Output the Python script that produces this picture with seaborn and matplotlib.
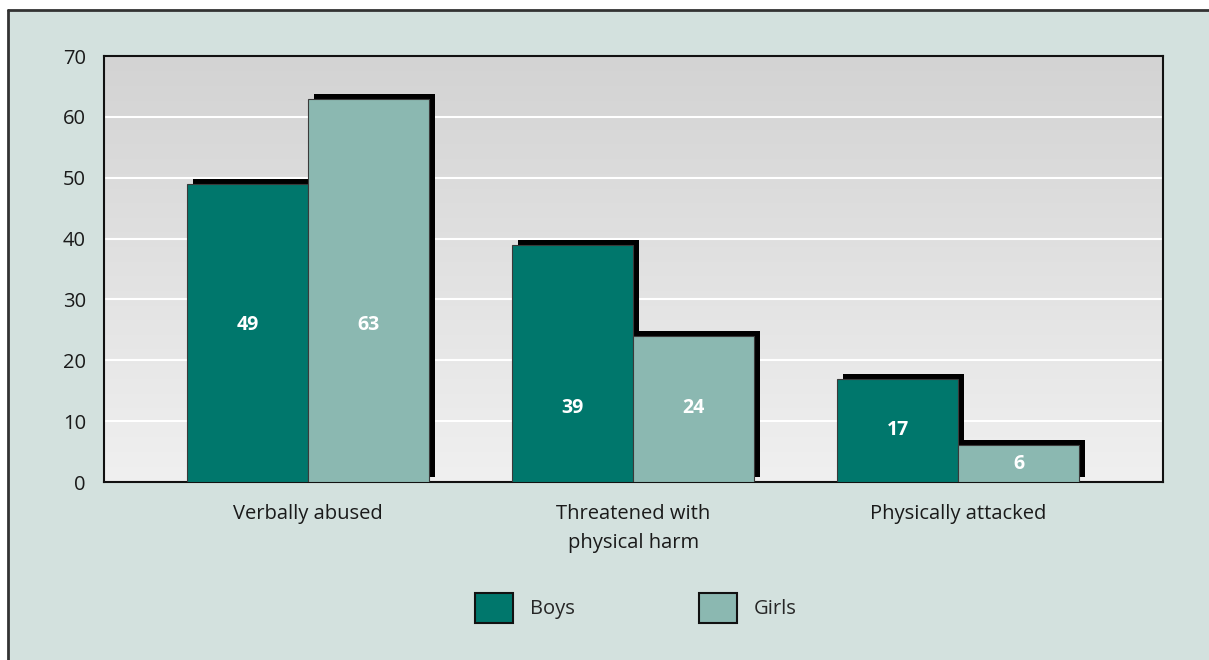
import numpy as np
import pandas as pd
import matplotlib
matplotlib.use("Agg")
import matplotlib.pyplot as plt
import matplotlib.patheffects as pe
from matplotlib.colors import LinearSegmentedColormap
from matplotlib.patches import Rectangle, Patch
from matplotlib.lines import Line2D
import seaborn as sns

categories = ["Verbally abused", "Threatened with\nphysical harm", "Physically attacked"]
boys = [49, 39, 17]
girls = [63, 24, 6]
series = ["Boys", "Girls"]
yticks = [0, 10, 20, 30, 40, 50, 60, 70]
# vertical placement (data units) of the value labels
label_y_boys = [25.8, 12.2, 8.5]
label_y_girls = [25.8, 12.2, 3.0]

boys_color = "#00776c"
girls_color = "#8bb8b1"
bg_color = "#d3e1de"

df = pd.DataFrame({
    "category": categories * 2,
    "value": boys + girls,
    "series": ["Boys"] * len(categories) + ["Girls"] * len(categories),
})

sns.set_style("white")
plt.rcParams["font.family"] = ["Open Sans", "DejaVu Sans"]

W, H = 1209, 660
fig = plt.figure(figsize=(W / 100, H / 100), dpi=100, facecolor="white")

# light panel with border on top and left
fig.patches.append(Rectangle((8 / W, 0), 1 - 8 / W, 1 - 10 / H, transform=fig.transFigure,
                             facecolor=bg_color, edgecolor="none", zorder=-10))
fig.lines.append(Line2D([8 / W, 8 / W], [0, 1 - 10 / H], transform=fig.transFigure,
                        color="#333333", lw=2))
fig.lines.append(Line2D([8 / W, 1], [1 - 10 / H, 1 - 10 / H], transform=fig.transFigure,
                        color="#333333", lw=2))

ax = fig.add_axes([104 / W, 1 - 482 / H, (1163 - 104) / W, (482 - 56) / H])
ax.set_facecolor("none")

# gradient background
grad = np.linspace(1, 0, 256).reshape(-1, 1)
cmap = LinearSegmentedColormap.from_list("g", ["#f0f0f0", "#d3d3d3"])
ax.imshow(grad, extent=[0, 1, 0, 1], transform=ax.transAxes, aspect="auto",
          cmap=cmap, zorder=0, vmin=0, vmax=1)

sns.barplot(data=df, x="category", y="value", hue="series", order=categories,
            hue_order=series, palette=[boys_color, girls_color], width=0.745,
            gap=0, edgecolor="#3a3a3a", linewidth=0.8, ax=ax, legend=False,
            saturation=1, zorder=3)

shadow = [pe.SimplePatchShadow(offset=(4.3, 3.6), shadow_rgbFace="black", alpha=1.0), pe.Normal()]
for p in ax.patches:
    p.set_path_effects(shadow)

for c, vals, ys in zip(ax.containers, [boys, girls], [label_y_boys, label_y_girls]):
    for bar, v, y in zip(c, vals, ys):
        ax.text(bar.get_x() + bar.get_width() / 2, y, f"{v}", ha="center", va="center",
                color="white", fontweight="bold", fontsize=14, zorder=5)

ax.set_xlim(-0.628, 2.63)
ax.set_ylim(0, 70)
ax.set_yticks(yticks)
ax.yaxis.grid(True, color="white", lw=1.5, zorder=1)
ax.set_axisbelow(True)
ax.tick_params(axis="both", length=0, labelsize=14.5, colors="#1a1a1a")
ax.tick_params(axis="y", pad=13)
ax.tick_params(axis="x", pad=15.5)
for lab in ax.get_xticklabels():
    lab.set_linespacing(1.6)
ax.set_xlabel("")
ax.set_ylabel("")
for s in ax.spines.values():
    s.set_visible(True)
    s.set_color("#111111")
    s.set_linewidth(1.5)

handles = [Patch(facecolor=boys_color, edgecolor="#111111", lw=1.5, label="Boys"),
           Patch(facecolor=girls_color, edgecolor="#111111", lw=1.5, label="Girls")]
fig.legend(handles=handles, loc="center", bbox_to_anchor=(636 / W, 1 - 608 / H), ncol=2,
           frameon=False, fontsize=14.5, handlelength=1.85, handleheight=1.85,
           handletextpad=0.85, columnspacing=6.2)

fig.savefig("out.png", dpi=100, facecolor=fig.get_facecolor())
